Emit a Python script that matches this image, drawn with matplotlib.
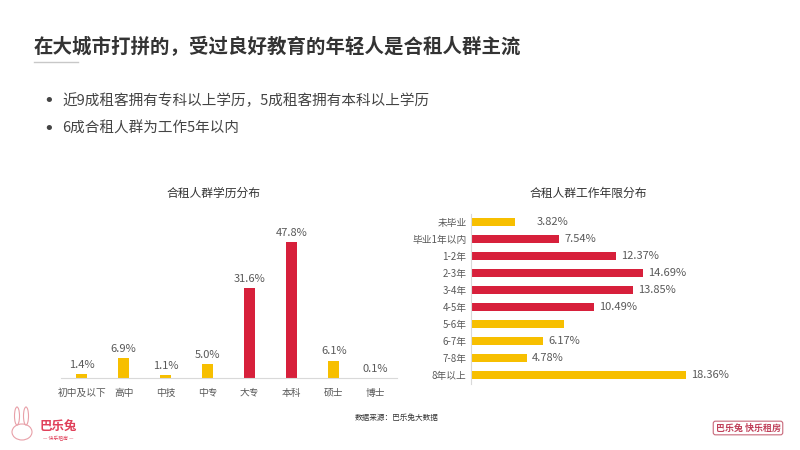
import matplotlib.pyplot as plt
from matplotlib.patches import Ellipse

plt.rcParams['font.family'] = ['Noto Sans CJK SC', 'DejaVu Sans']

RED = '#d7203b'
YELLOW = '#f7bf00'
GREY = '#595959'

# education distribution
edu_labels = ['初中及以下', '高中', '中技', '中专', '大专', '本科', '硕士', '博士']
edu_values = [1.4, 6.9, 1.1, 5.0, 31.6, 47.8, 6.1, 0.1]
edu_red = ['大专', '本科']

# years of work distribution
work_labels = ['未毕业', '毕业1年以内', '1-2年', '2-3年', '3-4年', '4-5年',
               '5-6年', '6-7年', '7-8年', '8年以上']
work_values = [3.82, 7.54, 12.37, 14.69, 13.85, 10.49, 7.93, 6.17, 4.78, 18.36]
work_shown = [True, True, True, True, True, True, False, True, True, True]
work_red = ['毕业1年以内', '1-2年', '2-3年', '3-4年', '4-5年']

fig = plt.figure(figsize=(8, 4.5), dpi=100)
fig.patch.set_facecolor('white')

# header
fig.text(34 / 800, 1 - 47 / 450, '在大城市打拼的，受过良好教育的年轻人是合租人群主流',
         fontsize=14, fontweight='bold', color='#333333', va='center')
fig.add_artist(plt.Line2D([34 / 800, 78 / 800], [1 - 62 / 450, 1 - 62 / 450],
                          color='#c8c8c8', lw=1))
bullets = ['近9成租客拥有专科以上学历，5成租客拥有本科以上学历', '6成合租人群为工作5年以内']
for i, b in enumerate(bullets):
    y = 1 - (101 + 28 * i) / 450
    fig.text(43 / 800, y, '•', fontsize=13, color='#444444', va='center',
             family='DejaVu Sans')
    fig.text(62 / 800, y, b, fontsize=10.5, color='#444444', va='center')

# left chart
ax1 = fig.add_axes([60.7 / 800, 0.16, 336 / 800, 0.348])
x = range(len(edu_labels))
colors1 = [RED if c in edu_red else YELLOW for c in edu_labels]
bars = ax1.bar(x, edu_values, width=0.25, color=colors1)
for b, v in zip(bars, edu_values):
    ax1.annotate(f'{v:.1f}%', (b.get_x() + b.get_width() / 2, v),
                 xytext=(0, 3), textcoords='offset points',
                 ha='center', va='bottom', fontsize=8, color=GREY)
ax1.set_xlim(-0.5, 7.5)
ax1.set_ylim(0, 55)
ax1.set_xticks(list(x))
ax1.set_xticklabels(edu_labels, fontsize=7, color=GREY)
ax1.tick_params(axis='x', length=0, pad=7)
ax1.set_yticks([])
for s in ['top', 'right', 'left']:
    ax1.spines[s].set_visible(False)
ax1.spines['bottom'].set_color('#d9d9d9')
fig.text(213 / 800, 1 - 193 / 450, '合租人群学历分布', fontsize=8.5,
         color='#333333', ha='center', va='center')

# right chart
ax2 = fig.add_axes([470.7 / 800, 1 - 383.5 / 450, 257.7 / 800, 170 / 450])
y = range(len(work_labels))
colors2 = [RED if c in work_red else YELLOW for c in work_labels]
bars = ax2.barh(y, work_values, height=0.45, color=colors2)
for i, (b, v, show) in enumerate(zip(bars, work_values, work_shown)):
    if not show:
        continue
    off = 15 if i == 0 else 4
    ax2.annotate(f'{v:.2f}%', (v, b.get_y() + b.get_height() / 2),
                 xytext=(off, 0), textcoords='offset points',
                 ha='left', va='center', fontsize=8, color=GREY)
ax2.set_xlim(0, 22)
ax2.set_ylim(9.5, -0.5)
ax2.set_yticks(list(y))
ax2.set_yticklabels(work_labels, fontsize=7, color=GREY)
ax2.tick_params(axis='y', length=0, pad=3)
ax2.set_xticks([])
for s in ['top', 'right', 'bottom']:
    ax2.spines[s].set_visible(False)
ax2.spines['left'].set_color('#d9d9d9')
fig.text(588 / 800, 1 - 193 / 450, '合租人群工作年限分布', fontsize=8.5,
         color='#333333', ha='center', va='center')

# footer
fig.text(397 / 800, 1 - 418 / 450, '数据来源：巴乐兔大数据', fontsize=5.5,
         color='#333333', ha='center', va='center')

# left logo (simple bunny)
fig.add_artist(Ellipse((22 / 800, 1 - 432 / 450), 20 / 800, 16 / 450,
                       fc='white', ec='#e8a0a8', lw=0.8))
fig.add_artist(Ellipse((17 / 800, 1 - 416 / 450), 5 / 800, 18 / 450,
                       fc='white', ec='#e8a0a8', lw=0.8))
fig.add_artist(Ellipse((26 / 800, 1 - 416 / 450), 5 / 800, 18 / 450,
                       fc='white', ec='#e8a0a8', lw=0.8))
fig.text(58 / 800, 1 - 426 / 450, '巴乐兔', fontsize=9, fontweight='bold',
         color='#e0405a', ha='center', va='center')
fig.text(58 / 800, 1 - 439 / 450, '— 快乐租房 —', fontsize=3.5,
         color='#e0405a', ha='center', va='center')

# right logo
fig.text(748 / 800, 1 - 428 / 450, '巴乐兔 快乐租房', fontsize=6.5,
         fontweight='bold', color='#c0405a', ha='center', va='center',
         bbox=dict(boxstyle='round,pad=0.25', fc='white', ec='#c8687a', lw=0.8))

fig.savefig('out.png', dpi=100, facecolor='white')
